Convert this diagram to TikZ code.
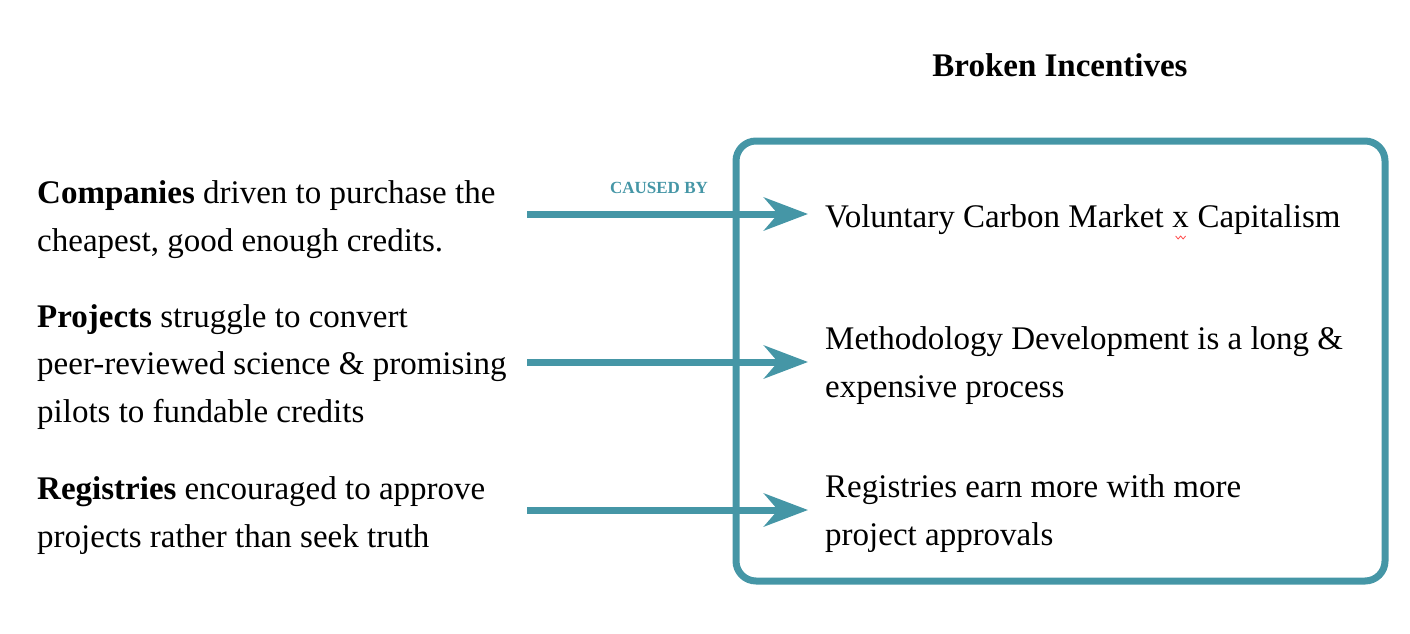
\documentclass[tikz,border=0pt]{standalone}
\usepackage{fontspec}
\setmainfont{Liberation Serif}
\usetikzlibrary{arrows.meta}
\definecolor{teal1}{HTML}{4596A6}
\begin{document}
\begin{tikzpicture}[x=1pt,y=-1pt,
  body/.style={inner sep=0pt, align=left, anchor=base west, font=\fontsize{33}{47.5}\selectfont, text=black},
  conn/.style={draw=teal1, line width=7pt, -{Stealth[length=44pt, width=33pt, inset=14pt]}},
  frame/.style={draw=teal1, line width=7pt, rounded corners=20pt}]
\useasboundingbox (0,0) rectangle (1410,634);
% title
\node[font=\fontsize{33}{38}\selectfont\bfseries, anchor=base] (title) at (1060,76) {Broken Incentives};
% frame
\draw[frame] (736,141) rectangle (1385,581);
% left texts (anchored at the baseline of the last line)
\node[body] (c) at (37,251) {\textbf{Companies} driven to purchase the\\cheapest, good enough credits.};
\node[body] (p) at (37,422) {\textbf{Projects} struggle to convert\\peer-reviewed science \& promising\\pilots to fundable credits};
\node[body] (r) at (37,547) {\textbf{Registries} encouraged to approve\\projects rather than seek truth};
% right texts
\node[body] (v) at (825,227) {Voluntary Carbon Market\strut};
\node[body] (vx) at ([xshift=8.25pt]v.base east) {x};
\node[body] (vc) at ([xshift=8.25pt]vx.base east) {Capitalism};
\node[body] (m) at (825,397) {Methodology Development is a long \&\\expensive process};
\node[body] (g) at (825,545) {Registries earn more with more\\project approvals};
% caused by
\node[font=\fontsize{17}{20}\selectfont\bfseries, text=teal1, anchor=base] (cb) at (659,193) {CAUSED BY};
% arrows
\coordinate (s1) at (527,214);
\coordinate (e1) at (808,214);
\coordinate (s2) at (527,362);
\coordinate (e2) at (808,362);
\coordinate (s3) at (527,510);
\coordinate (e3) at (808,510);
\draw[conn] (s1) -- (e1);
\draw[conn] (s2) -- (e2);
\draw[conn] (s3) -- (e3);
% spell-check squiggle under the x
\draw[red!70, line width=0.8pt] ([xshift=-5pt,yshift=-9pt]vx.base) -- ++(2.5,3) -- ++(2.5,-3) -- ++(2.5,3) -- ++(2.5,-3);
\end{tikzpicture}
\end{document}
